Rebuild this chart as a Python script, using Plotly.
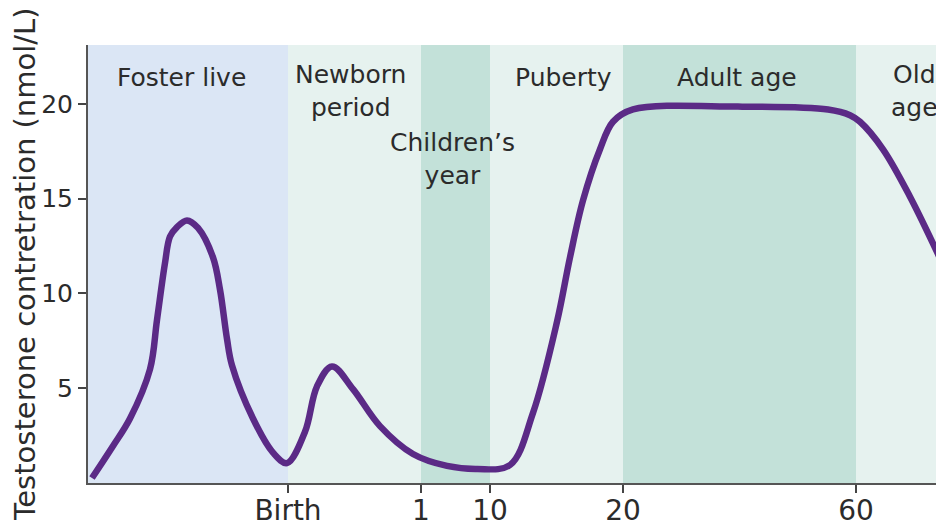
import plotly.graph_objects as go

# Curve (x in axis position units; y in nmol/L)
curve_x = [4, 25, 42, 62, 69, 77, 82, 89, 99, 110, 125, 132, 139, 144, 165, 185, 199, 217, 229, 244, 265,
           292, 325, 359, 389, 422, 445, 469, 482, 495, 512, 525, 545, 650, 740, 762, 772, 795, 822, 856]
curve_y = [0.26, 1.95, 3.4, 6.0, 8.6, 11.6, 13.0, 13.5, 13.85, 13.45, 11.9, 10.2, 7.6, 6.2, 3.4, 1.6, 1.05, 2.7, 5.1, 6.15, 4.95,
           3.0, 1.53, 0.9, 0.74, 0.95, 3.7, 8.5, 11.9, 14.9, 17.6, 19.05, 19.7, 19.85, 19.7, 19.4, 19.05, 17.6, 15.1, 11.4]

tick_pos = [200, 333, 402, 535, 768]
tick_labels = ["Birth", "1", "10", "20", "60"]

band_edges = [0, 200, 333, 402, 535, 768, 856]
band_colors = ["#dbe6f5", "#e6f2ef", "#c3e1d9", "#e6f2ef", "#c3e1d9", "#e6f2ef"]
band_labels = ["Foster live", "Newborn<br>period", "Children’s<br>year", "Puberty", "Adult age", "Old<br>age"]
label_x = [93, 262, 364, 475, 649, 826]
label_y = [21.4, 20.65, 17.1, 21.4, 21.4, 20.65]

fig = go.Figure()
fig.add_trace(go.Scatter(x=curve_x, y=curve_y, mode="lines",
                         line=dict(color="#5b2a86", width=6.5, shape="spline", smoothing=1.0),
                         hoverinfo="skip", showlegend=False))

shapes = []
for i, c in enumerate(band_colors):
    shapes.append(dict(type="rect", xref="x", yref="paper", x0=band_edges[i], x1=band_edges[i + 1],
                       y0=0, y1=1, fillcolor=c, line=dict(width=0), layer="below"))

annotations = []
for t, lx, ly in zip(band_labels, label_x, label_y):
    annotations.append(dict(x=lx, y=ly, xref="x", yref="y", text=t, showarrow=False,
                            yanchor="middle", font=dict(size=25, color="#2b2b2b")))

fig.update_layout(
    width=944, height=520,
    margin=dict(l=80, r=8, t=37, b=45),
    paper_bgcolor="white", plot_bgcolor="white",
    font=dict(family="DejaVu Sans", color="#2b2b2b"),
    shapes=shapes, annotations=annotations,
    xaxis=dict(range=[0, 856], tickvals=tick_pos, ticktext=tick_labels, ticks="outside", ticklen=8,
               ticklabelstandoff=-7,
               tickcolor="#444", tickwidth=1.5, showline=True, linecolor="#555", linewidth=2,
               showgrid=False, zeroline=False, automargin=False,
               tickfont=dict(size=28, color="#2b2b2b")),
    yaxis=dict(range=[0, 23.1], tickvals=[5, 10, 15, 20], ticks="outside", ticklen=8,
               tickcolor="#444", tickwidth=1.5, showline=True, linecolor="#555", linewidth=2,
               showgrid=False, zeroline=False, automargin=False,
               tickfont=dict(size=25, color="#2b2b2b"),
               title=dict(text="Testosterone contretration (nmol/L)", font=dict(size=29, color="#2b2b2b"),
                          standoff=6)),
)

fig.write_html("out.html")
